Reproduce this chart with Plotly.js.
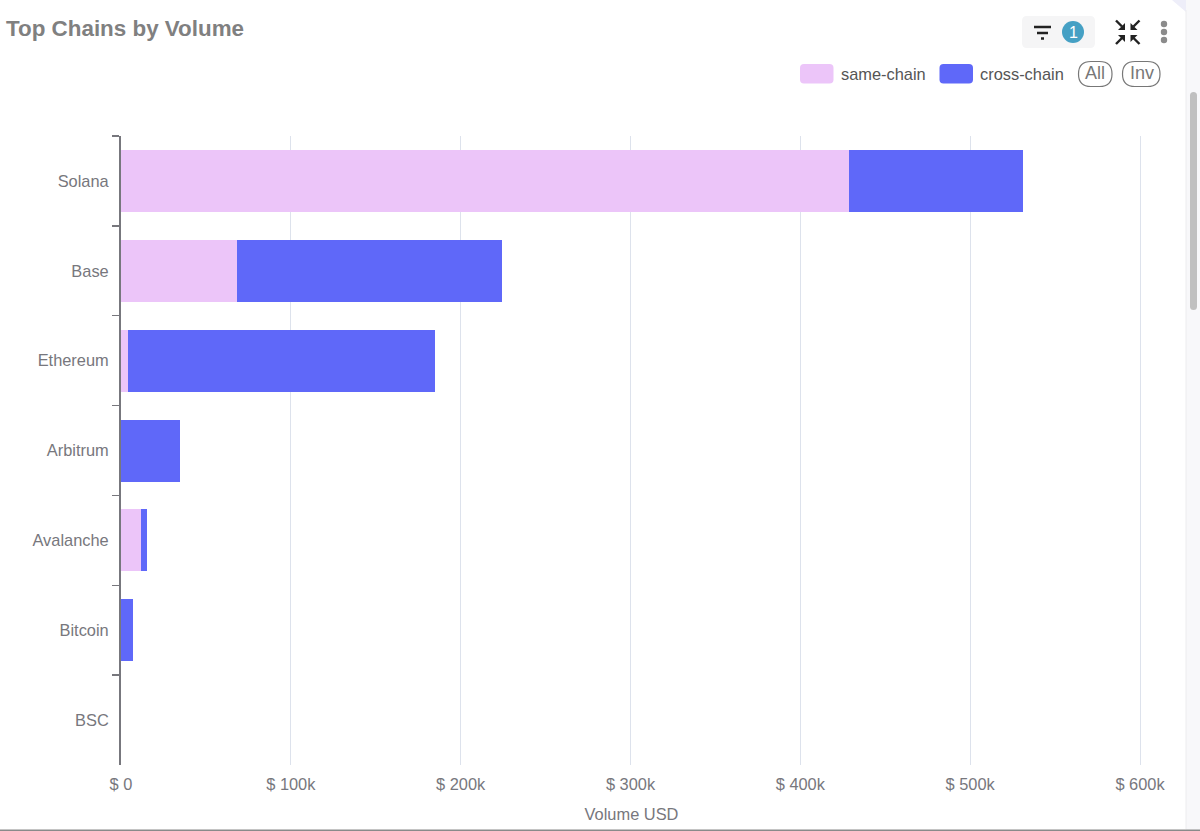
<!DOCTYPE html>
<html>
<head>
<meta charset="utf-8">
<script src="https://cdn.plot.ly/plotly-3.0.1.min.js"></script>
<style>html,body{margin:0;padding:0;background:#fff;overflow:hidden}#chart{width:1200px;height:831px}</style>
</head>
<body>
<div id="chart"></div>
<script>
var chains = ['Solana', 'Base', 'Ethereum', 'Arbitrum', 'Avalanche', 'Bitcoin', 'BSC'];
var sameChain = [428700, 68300, 4400, 0, 12000, 0, 0];
var crossChain = [102500, 156300, 180700, 35000, 3600, 7200, 0];
var xTickValues = [0, 100000, 200000, 300000, 400000, 500000, 600000];
var xTickLabels = ['$ 0', '$ 100k', '$ 200k', '$ 300k', '$ 400k', '$ 500k', '$ 600k'];
var seriesNames = ['same-chain', 'cross-chain'];
var seriesColors = ['#ecc5f9', '#5f68f9'];

var W = 1200, H = 831, L = 121, R = 58, T = 136, B = 66;
function px(x) { return (x - L) / (W - L - R); }
function py(y) { return 1 - (y - T) / (H - T - B); }
function roundRect(x0, y0, x1, y1, r) {
  return 'M' + px(x0 + r) + ',' + py(y0) + ' L' + px(x1 - r) + ',' + py(y0) +
    ' Q' + px(x1) + ',' + py(y0) + ' ' + px(x1) + ',' + py(y0 + r) +
    ' L' + px(x1) + ',' + py(y1 - r) +
    ' Q' + px(x1) + ',' + py(y1) + ' ' + px(x1 - r) + ',' + py(y1) +
    ' L' + px(x0 + r) + ',' + py(y1) +
    ' Q' + px(x0) + ',' + py(y1) + ' ' + px(x0) + ',' + py(y1 - r) +
    ' L' + px(x0) + ',' + py(y0 + r) +
    ' Q' + px(x0) + ',' + py(y0) + ' ' + px(x0 + r) + ',' + py(y0) + ' Z';
}
function box(x0, y0, x1, y1, r, fill, line, lw) {
  return { type: 'path', xref: 'paper', yref: 'paper', layer: 'above', path: roundRect(x0, y0, x1, y1, r),
    fillcolor: fill, line: { color: line || fill, width: line ? (lw || 1) : 0 } };
}
function seg(x0, y0, x1, y1, color, w) {
  return { type: 'line', xref: 'paper', yref: 'paper', layer: 'above', x0: px(x0), y0: py(y0), x1: px(x1), y1: py(y1),
    line: { color: color, width: w } };
}
function dot(cx, cy, r, fill) {
  return { type: 'circle', xref: 'paper', yref: 'paper', layer: 'above', x0: px(cx - r), x1: px(cx + r), y0: py(cy - r), y1: py(cy + r),
    fillcolor: fill, line: { width: 0 } };
}
function tri(a, b, c, fill) {
  return { type: 'path', xref: 'paper', yref: 'paper', layer: 'above',
    path: 'M' + px(a[0]) + ',' + py(a[1]) + ' L' + px(b[0]) + ',' + py(b[1]) + ' L' + px(c[0]) + ',' + py(c[1]) + ' Z',
    fillcolor: fill, line: { width: 0 } };
}
function label(x, y, text, size, color, anchor, bold) {
  return { xref: 'paper', yref: 'paper', x: px(x), y: py(y), xanchor: anchor || 'left', yanchor: 'middle',
    showarrow: false, text: bold ? '<b>' + text + '</b>' : text,
    font: { family: 'Liberation Sans, Arial, sans-serif', size: size, color: color } };
}
var ink = '#222';
var shapes = [
  box(1186, -2, 1204, 835, 0, '#f8f8fa'),
  tri([1172, 0], [1186, 0], [1186, 12], '#eeeef9'),
  seg(1186, 10, 1186, 829, '#ececee', 1),
  box(1190, 92, 1197, 310, 3.5, '#c0c0c0'),
  seg(0, 830.3, 1200, 830.3, '#8a8a8a', 1.5),
  box(1022, 16, 1095, 48, 5, '#f5f5f6'),
  seg(1034, 27, 1051, 27, ink, 2.5),
  seg(1037, 33, 1048, 33, ink, 2.5),
  seg(1041, 38.5, 1044, 38.5, ink, 2.5),
  dot(1073, 32, 11, '#45a0c4'),
  seg(1116, 20.5, 1122, 26.5, ink, 2.4), tri([1125, 30], [1125, 23], [1118, 30], ink),
  seg(1139.5, 20.5, 1133.5, 26.5, ink, 2.4), tri([1130.5, 30], [1130.5, 23], [1137.5, 30], ink),
  seg(1116, 44, 1122, 38, ink, 2.4), tri([1125, 35], [1125, 42], [1118, 35], ink),
  seg(1139.5, 44, 1133.5, 38, ink, 2.4), tri([1130.5, 35], [1130.5, 42], [1137.5, 35], ink),
  dot(1164, 24, 3.2, '#8b8b8b'), dot(1164, 32, 3.2, '#8b8b8b'), dot(1164, 40, 3.2, '#8b8b8b'),
  box(800, 64, 833.5, 83.5, 4, seriesColors[0]),
  box(939.5, 64, 973, 83.5, 4, seriesColors[1]),
  box(1078.5, 61.5, 1112, 86.5, 12.5, 'rgba(0,0,0,0)', '#777', 1.2),
  box(1122.5, 61.5, 1160, 86.5, 12.5, 'rgba(0,0,0,0)', '#777', 1.2)
];
var annotations = [
  label(3.5, 28, 'Top Chains by Volume', 22.4, '#808080', 'left', true),
  label(1073, 32.5, '1', 16, '#ffffff', 'center'),
  label(838.5, 74, seriesNames[0], 16.4, '#555', 'left'),
  label(977.5, 74, seriesNames[1], 16.4, '#555', 'left'),
  label(1095.2, 73.5, 'All', 18, '#777', 'center'),
  label(1141.5, 73.5, 'Inv', 18, '#777', 'center')
];

var traces = seriesNames.map(function (name, i) {
  return { type: 'bar', orientation: 'h', name: name, y: chains, x: i === 0 ? sameChain : crossChain,
    marker: { color: seriesColors[i], line: { width: 0 } }, hoverinfo: 'skip' };
});
var tickFont = { family: 'Liberation Sans, Arial, sans-serif', size: 16.4, color: '#77777d' };
var layout = {
  width: W, height: H, margin: { l: L, r: R, t: T, b: B, pad: 0 },
  paper_bgcolor: '#fff', plot_bgcolor: '#fff', barmode: 'stack', bargap: 0.31, showlegend: false,
  xaxis: { range: [0, 601178], tickmode: 'array', tickvals: xTickValues, ticktext: xTickLabels, ticks: '', tickfont: tickFont,
    ticklabelstandoff: 8, showgrid: true, gridcolor: '#dde2ec', gridwidth: 1, zeroline: false, showline: false, automargin: false,
    title: { text: 'Volume USD', font: tickFont, standoff: 16 } },
  yaxis: { type: 'category', categoryorder: 'array', categoryarray: chains, range: [6.5, -0.5], tickson: 'boundaries',
    ticks: 'outside', ticklen: 7, tickwidth: 1.5, tickcolor: '#77777d', tickfont: tickFont, ticklabelstandoff: 7,
    showline: true, linecolor: '#77777d', linewidth: 2, showgrid: false, zeroline: false, automargin: false },
  shapes: shapes, annotations: annotations
};
Plotly.newPlot('chart', traces, layout, { displayModeBar: false, staticPlot: true });
</script>
</body>
</html>
